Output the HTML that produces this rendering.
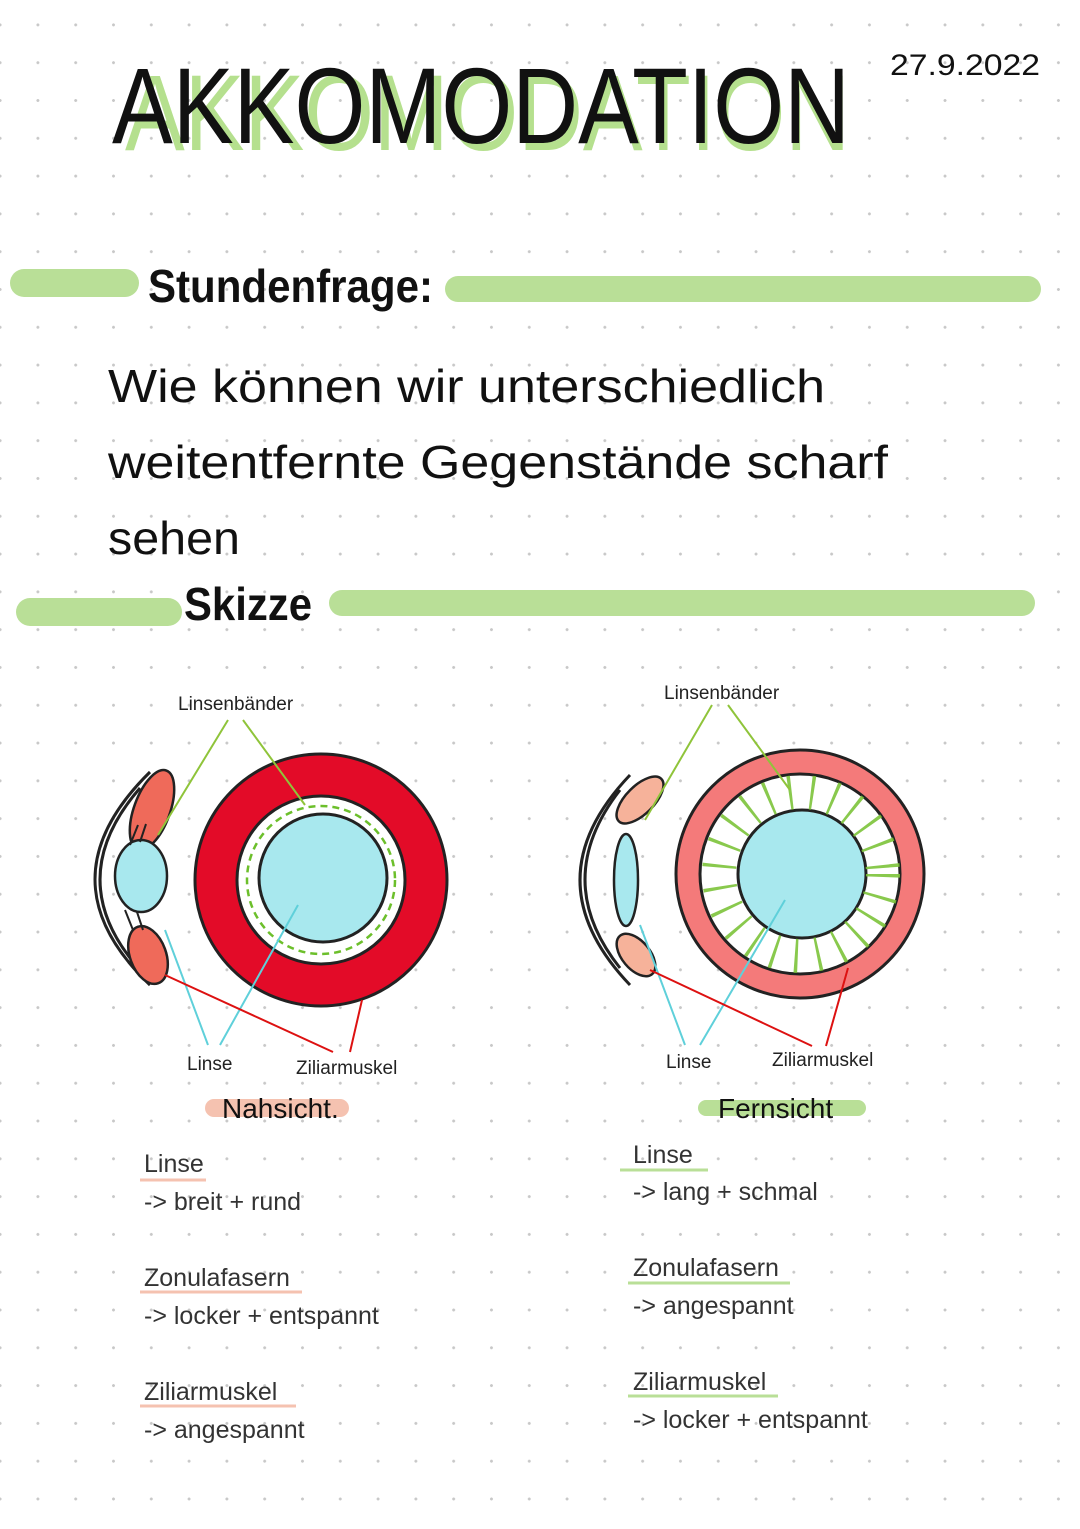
<!DOCTYPE html>
<html><head><meta charset="utf-8"><style>
html,body{margin:0;padding:0;}
body{width:1080px;height:1529px;position:relative;overflow:hidden;background:#fff;
background-image:radial-gradient(circle,#c8c8c8 1.3px,transparent 1.6px);background-size:37.8px 37.8px;background-position:19px 6px;
font-family:"Liberation Sans",sans-serif;}
svg{position:absolute;left:0;top:0;}
</style></head><body>
<svg width="1080" height="1529" viewBox="0 0 1080 1529">
<text x="125" y="150" font-size="108" font-family="Liberation Sans" fill="#b5e08e" textLength="725" lengthAdjust="spacingAndGlyphs">AKKOMODATION</text>
<text x="112" y="143" font-size="108" font-family="Liberation Sans" fill="#111" textLength="738" lengthAdjust="spacingAndGlyphs">AKKOMODATION</text>
<text x="890" y="75" font-size="30" fill="#111" textLength="150" lengthAdjust="spacingAndGlyphs">27.9.2022</text>
<line x1="24" y1="283" x2="125" y2="283" stroke="#b9df97" stroke-width="28" stroke-linecap="round"/>
<line x1="458" y1="289" x2="1028" y2="289" stroke="#b9df97" stroke-width="26" stroke-linecap="round"/>
<text x="148" y="302" font-size="46" font-weight="bold" fill="#111" textLength="285" lengthAdjust="spacingAndGlyphs">Stundenfrage:</text>
<g font-size="46" fill="#111">
<text x="108" y="402" textLength="717" lengthAdjust="spacingAndGlyphs">Wie können wir unterschiedlich</text>
<text x="108" y="478" textLength="780" lengthAdjust="spacingAndGlyphs">weitentfernte Gegenstände scharf</text>
<text x="108" y="554" textLength="132" lengthAdjust="spacingAndGlyphs">sehen</text>
</g>
<line x1="30" y1="612" x2="168" y2="612" stroke="#b9df97" stroke-width="28" stroke-linecap="round"/>
<line x1="342" y1="603" x2="1022" y2="603" stroke="#b9df97" stroke-width="26" stroke-linecap="round"/>
<text x="184" y="620" font-size="46" font-weight="bold" fill="#111" textLength="128" lengthAdjust="spacingAndGlyphs">Skizze</text>

<!-- LEFT eye -->
<path d="M150 772 Q40 880 150 985" fill="none" stroke="#222" stroke-width="3"/>
<path d="M140 788 Q60 880 140 970" fill="none" stroke="#222" stroke-width="3"/>
<ellipse cx="152" cy="810" rx="18" ry="42" transform="rotate(20 152 810)" fill="#ef6a5a" stroke="#222" stroke-width="2.5"/>
<ellipse cx="148" cy="955" rx="18" ry="30" transform="rotate(-20 148 955)" fill="#ef6a5a" stroke="#222" stroke-width="2.5"/>
<ellipse cx="141" cy="876" rx="26" ry="36" fill="#a8e8ee" stroke="#222" stroke-width="2.5"/>
<path d="M130 845 l8 -20 M140 842 l6 -18 M125 910 l8 20 M137 912 l6 18" stroke="#222" stroke-width="2"/>
<circle cx="321" cy="880" r="126" fill="#e30b28" stroke="#222" stroke-width="3"/>
<circle cx="321" cy="880" r="84" fill="#fff" stroke="#222" stroke-width="3"/>
<circle cx="323" cy="878" r="64" fill="#a8e8ee" stroke="#222" stroke-width="3"/>
<circle cx="321" cy="880" r="74" stroke="#6cbf2b" stroke-width="2.5" fill="none" stroke-dasharray="7 5"/>
<g stroke-width="2" fill="none">
<path d="M158 835 L228 720 M243 720 L305 805" stroke="#8fc43a"/>
<path d="M165 930 L208 1045 M220 1045 L298 905" stroke="#5fd0da"/>
<path d="M165 975 L333 1052 M350 1052 L362 1000" stroke="#d11"/>
</g>
<text x="178" y="710" font-size="19" fill="#222">Linsenbänder</text>
<text x="187" y="1070" font-size="19" fill="#222">Linse</text>
<text x="296" y="1074" font-size="19" fill="#222">Ziliarmuskel</text>
<line x1="214" y1="1108" x2="340" y2="1108" stroke="#f5c2b0" stroke-width="18" stroke-linecap="round"/>
<text x="222" y="1118" font-size="28" fill="#111">Nahsicht.</text>

<!-- RIGHT eye -->
<path d="M630 775 Q530 880 630 985" fill="none" stroke="#222" stroke-width="3"/>
<path d="M620 790 Q550 880 620 968" fill="none" stroke="#222" stroke-width="3"/>
<ellipse cx="640" cy="800" rx="14" ry="30" transform="rotate(45 640 800)" fill="#f6b29a" stroke="#222" stroke-width="2.5"/>
<ellipse cx="636" cy="955" rx="14" ry="25" transform="rotate(-40 636 955)" fill="#f6b29a" stroke="#222" stroke-width="2.5"/>
<ellipse cx="626" cy="880" rx="12" ry="46" fill="#a8e8ee" stroke="#222" stroke-width="2.5"/>
<circle cx="800" cy="874" r="124" fill="#f47a7a" stroke="#222" stroke-width="3"/>
<circle cx="800" cy="874" r="100" fill="#fff" stroke="#222" stroke-width="3"/>
<circle cx="802" cy="874" r="64" fill="#a8e8ee" stroke="#222" stroke-width="3"/>
<circle cx="801" cy="874" r="82" fill="none" stroke-dasharray="3 19" stroke-width="34" stroke="#7cc33a" opacity="0.9"/>
<g stroke-width="2" fill="none">
<path d="M645 820 L712 705 M728 705 L790 790" stroke="#8fc43a"/>
<path d="M640 925 L685 1045 M700 1045 L785 900" stroke="#5fd0da"/>
<path d="M650 970 L812 1046 M826 1046 L848 968" stroke="#d11"/>
</g>
<text x="664" y="699" font-size="19" fill="#222">Linsenbänder</text>
<text x="666" y="1068" font-size="19" fill="#222">Linse</text>
<text x="772" y="1066" font-size="19" fill="#222">Ziliarmuskel</text>
<line x1="706" y1="1108" x2="858" y2="1108" stroke="#b9df97" stroke-width="16" stroke-linecap="round"/>
<text x="718" y="1118" font-size="28" fill="#111">Fernsicht</text>

<g font-size="25" fill="#333">
<line x1="140" y1="1180" x2="206" y2="1180" stroke="#f5c2b0" stroke-width="3"/>
<text x="144" y="1172">Linse</text>
<text x="144" y="1210">-&gt; breit + rund</text>
<line x1="140" y1="1292" x2="302" y2="1292" stroke="#f5c2b0" stroke-width="3"/>
<text x="144" y="1286">Zonulafasern</text>
<text x="144" y="1324">-&gt; locker + entspannt</text>
<line x1="140" y1="1406" x2="296" y2="1406" stroke="#f5c2b0" stroke-width="3"/>
<text x="144" y="1400">Ziliarmuskel</text>
<text x="144" y="1438">-&gt; angespannt</text>

<line x1="620" y1="1170" x2="708" y2="1170" stroke="#b9df97" stroke-width="3"/>
<text x="633" y="1163">Linse</text>
<text x="633" y="1200">-&gt; lang + schmal</text>
<line x1="628" y1="1283" x2="790" y2="1283" stroke="#b9df97" stroke-width="3"/>
<text x="633" y="1276">Zonulafasern</text>
<text x="633" y="1314">-&gt; angespannt</text>
<line x1="628" y1="1396" x2="778" y2="1396" stroke="#b9df97" stroke-width="3"/>
<text x="633" y="1390">Ziliarmuskel</text>
<text x="633" y="1428">-&gt; locker + entspannt</text>
</g>
</svg>
</body></html>
